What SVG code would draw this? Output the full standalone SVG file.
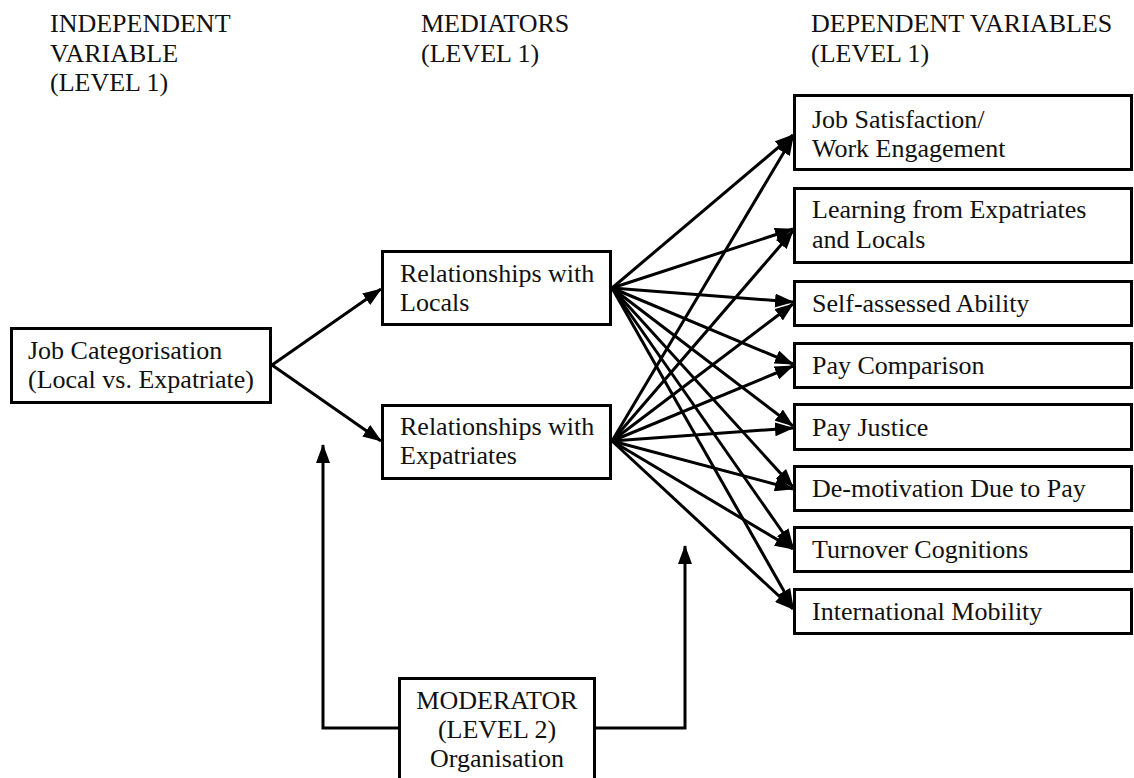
<svg xmlns="http://www.w3.org/2000/svg" width="1134" height="778" viewBox="0 0 1134 778">
<defs>
<style>
text{font-family:"Liberation Serif","Times New Roman",serif;font-size:26px;fill:#111}
.box{fill:#fff;stroke:#000;stroke-width:3}
.c{fill:none;stroke:#000;stroke-width:3}
</style>
<marker id="ah" markerUnits="userSpaceOnUse" markerWidth="19" markerHeight="14" viewBox="0 0 19 14" refX="18" refY="7" orient="auto">
<path d="M0,0 L19,7 L0,14 z" fill="#000"/>
</marker>
</defs>
<rect width="1134" height="778" fill="#fff"/>

<g id="headers">
<text x="50" y="32">INDEPENDENT</text>
<text x="50" y="62">VARIABLE</text>
<text x="50" y="91">(LEVEL 1)</text>
<text x="421" y="32">MEDIATORS</text>
<text x="421" y="62">(LEVEL 1)</text>
<text x="811" y="32">DEPENDENT VARIABLES</text>
<text x="811" y="62">(LEVEL 1)</text>
</g>

<g id="connectors">
<line class="c" x1="272" y1="365" x2="381" y2="289" marker-end="url(#ah)"/>
<line class="c" x1="272" y1="365" x2="381" y2="441" marker-end="url(#ah)"/>
<g id="from-locals">
<line class="c" x1="612" y1="288" x2="793" y2="135" marker-end="url(#ah)"/>
<line class="c" x1="612" y1="288" x2="793" y2="229" marker-end="url(#ah)"/>
<line class="c" x1="612" y1="288" x2="793" y2="302" marker-end="url(#ah)"/>
<line class="c" x1="612" y1="288" x2="793" y2="364" marker-end="url(#ah)"/>
<line class="c" x1="612" y1="288" x2="793" y2="426" marker-end="url(#ah)"/>
<line class="c" x1="612" y1="288" x2="793" y2="487" marker-end="url(#ah)"/>
<line class="c" x1="612" y1="288" x2="793" y2="547" marker-end="url(#ah)"/>
<line class="c" x1="612" y1="288" x2="793" y2="607" marker-end="url(#ah)"/>
</g>
<g id="from-expatriates">
<line class="c" x1="612" y1="441" x2="793" y2="137" marker-end="url(#ah)"/>
<line class="c" x1="612" y1="441" x2="793" y2="231" marker-end="url(#ah)"/>
<line class="c" x1="612" y1="441" x2="793" y2="304" marker-end="url(#ah)"/>
<line class="c" x1="612" y1="441" x2="793" y2="366" marker-end="url(#ah)"/>
<line class="c" x1="612" y1="441" x2="793" y2="428" marker-end="url(#ah)"/>
<line class="c" x1="612" y1="441" x2="793" y2="489" marker-end="url(#ah)"/>
<line class="c" x1="612" y1="441" x2="793" y2="549" marker-end="url(#ah)"/>
<line class="c" x1="612" y1="441" x2="793" y2="609" marker-end="url(#ah)"/>
</g>
<polyline class="c" points="398,728 323,728 323,445" marker-end="url(#ah)"/>
<polyline class="c" points="596,728 685,728 685,546" marker-end="url(#ah)"/>
</g>

<g id="job-categorisation">
<rect class="box" x="11.5" y="328.5" width="259" height="74"/>
<text x="28" y="359">Job Categorisation</text>
<text x="28" y="388">(Local vs. Expatriate)</text>
</g>

<g id="rel-locals">
<rect class="box" x="382.5" y="251.5" width="228" height="73"/>
<text x="400" y="282">Relationships with</text>
<text x="400" y="311">Locals</text>
</g>

<g id="rel-expatriates">
<rect class="box" x="382.5" y="405.5" width="228" height="73"/>
<text x="400" y="435">Relationships with</text>
<text x="400" y="464">Expatriates</text>
</g>

<g id="moderator">
<rect class="box" x="399.5" y="678.5" width="195" height="120"/>
<text x="497" y="709" text-anchor="middle">MODERATOR</text>
<text x="497" y="738" text-anchor="middle">(LEVEL 2)</text>
<text x="497" y="767" text-anchor="middle">Organisation</text>
</g>

<g id="dv-job-satisfaction">
<rect class="box" x="794.5" y="95.5" width="337" height="74"/>
<text x="812" y="128">Job Satisfaction/</text>
<text x="812" y="157">Work Engagement</text>
</g>
<g id="dv-learning">
<rect class="box" x="794.5" y="188.5" width="337" height="74"/>
<text x="812" y="218">Learning from Expatriates</text>
<text x="812" y="248">and Locals</text>
</g>
<g id="dv-self-assessed">
<rect class="box" x="794.5" y="281.5" width="337" height="44"/>
<text x="812" y="312">Self-assessed Ability</text>
</g>
<g id="dv-pay-comparison">
<rect class="box" x="794.5" y="343.5" width="337" height="44"/>
<text x="812" y="374">Pay Comparison</text>
</g>
<g id="dv-pay-justice">
<rect class="box" x="794.5" y="404.5" width="337" height="45"/>
<text x="812" y="436">Pay Justice</text>
</g>
<g id="dv-demotivation">
<rect class="box" x="794.5" y="466.5" width="337" height="44"/>
<text x="812" y="497">De-motivation Due to Pay</text>
</g>
<g id="dv-turnover">
<rect class="box" x="794.5" y="527.5" width="337" height="44"/>
<text x="812" y="558">Turnover Cognitions</text>
</g>
<g id="dv-mobility">
<rect class="box" x="794.5" y="589.5" width="337" height="44"/>
<text x="812" y="620">International Mobility</text>
</g>
</svg>
